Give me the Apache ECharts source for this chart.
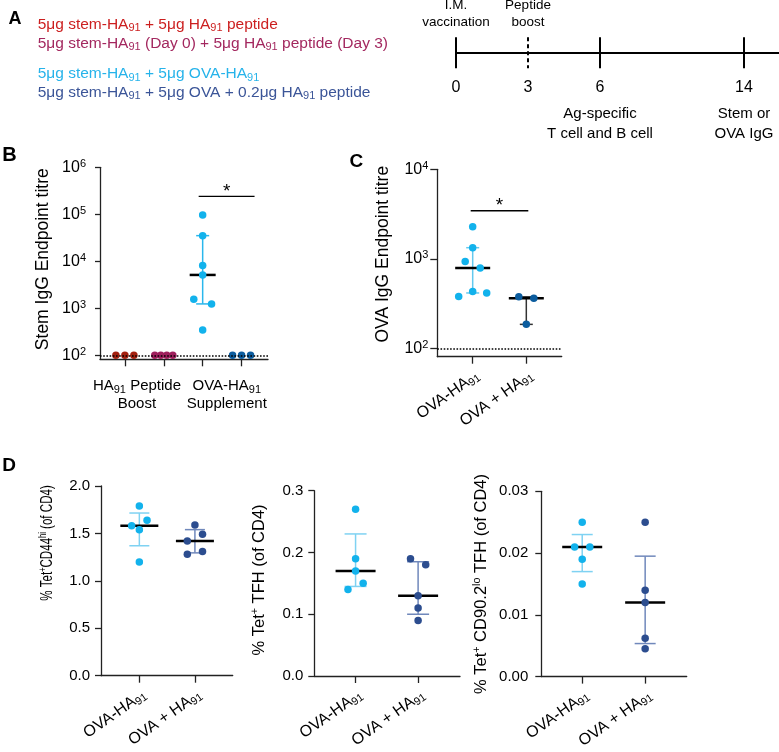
<!DOCTYPE html>
<html>
<head>
<meta charset="utf-8">
<script src="https://cdn.jsdelivr.net/npm/echarts@6/dist/echarts.min.js"></script>
<style>
  html, body { margin: 0; padding: 0; background: #fff; }
  #chart { width: 779px; height: 752px; }
</style>
</head>
<body>
<div id="chart"></div>
<script>
// ---------- data ----------
const legendLines = [
  '5μg stem-HA91 + 5μg HA91 peptide',
  '5μg stem-HA91 (Day 0) + 5μg HA91 peptide (Day 3)',
  '5μg stem-HA91 + 5μg OVA-HA91',
  '5μg stem-HA91 + 5μg OVA + 0.2μg HA91 peptide'
];

// timeline (axis slots, the empty ones are just spacing)
const timelineSlots = ['0', '3', '6', '', '14', ''];
const timelineDays = ['0', '3', '6', '14'];
const timelineAbove = ['I.M.\nvaccination', 'Peptide\nboost', '', ''];
const timelineBelow = ['', '', 'Ag-specific\nT cell and B cell', 'Stem or\nOVA IgG'];
const timelineDashed = [false, true, false, false];

// B: stem IgG endpoint titre
const stemGroups = ['HA91 peptide', 'HA91 peptide (Day 3)', 'OVA-HA91', 'OVA + HA91'];
const stemTitre = [
  [100, 100, 100],
  [100, 100, 100, 100],
  [96800, 35100, 8090, 5120, 1556, 1237, 345],
  [100, 100, 100]
];
const stemAxisLabels = ['HA91 Peptide\nBoost', 'OVA-HA91\nSupplement'];
const stemTicks = [100, 1000, 10000, 100000, 1000000];

// C: OVA IgG endpoint titre
const ovaGroups = ['OVA-HA91', 'OVA + HA91'];
const ovaTitre = [
  [2280, 1330, 930, 790, 380, 430, 415],
  [376, 363, 185]
];
const ovaTicks = [100, 1000, 10000];
const detectionLimit = 100;

// D: T cell frequencies (% of CD4)
const tetCD44 = [[1.79, 1.58, 1.54, 1.64, 1.20], [1.59, 1.42, 1.49, 1.28, 1.31]];
const tetTFH = [[0.27, 0.19, 0.17, 0.14, 0.15], [0.19, 0.18, 0.13, 0.11, 0.09]];
const tetCD90 = [[0.025, 0.021, 0.021, 0.019, 0.015], [0.025, 0.014, 0.012, 0.0062, 0.0045]];

// ---------- helpers ----------
const FONT = '"Liberation Sans", Arial, Helvetica, sans-serif';
const rich = {
  s: { fontSize: 11, lineHeight: 11, verticalAlign: 'bottom', fontFamily: FONT },
  u: { fontSize: 11, lineHeight: 11, verticalAlign: 'top', fontFamily: FONT }
};
const sub = t => t.replace(/HA91/g, 'HA{s|91}');
const axisLS = { color: '#222', width: 1.3 };

// GraphPad style percentile (p * (n + 1))
function pct(sorted, p) {
  const n = sorted.length;
  let pos = Math.min(Math.max(p * (n + 1), 1), n);
  const lo = Math.floor(pos), f = pos - lo;
  if (lo >= n) return sorted[n - 1];
  return sorted[lo - 1] + f * (sorted[lo] - sorted[lo - 1]);
}

// spread overlapping dots sideways, returns pixel offsets
function spread(values, toPx, opt) {
  const idx = values.map((v, i) => i).sort((a, b) => toPx(values[a]) - toPx(values[b]));
  const rows = [];
  let cur = [idx[0]];
  for (let k = 1; k < idx.length; k++) {
    if (Math.abs(toPx(values[idx[k]]) - toPx(values[idx[k - 1]])) < opt.dot) cur.push(idx[k]);
    else { rows.push(cur); cur = [idx[k]]; }
  }
  rows.push(cur);
  const off = values.map(() => 0);
  rows.forEach(r => {
    if (r.length < 2) return;
    r.sort((a, b) => a - b);
    let step = r.length === 2 ? opt.pair : opt.multi;
    step = Math.min(step, opt.maxSpread / (r.length - 1));
    r.forEach((i, k) => { off[i] = (k - (r.length - 1) / 2) * step; });
  });
  return off;
}

const grids = [], xAxes = [], yAxes = [], series = [], graphics = [];

// ---------- timeline (panel A) ----------
const slotPx = 72;
const tlLeft = 456;
const tlSlots = timelineSlots.map((s, i) => i);
grids.push({ left: tlLeft, top: 37.3, width: 779 - tlLeft, height: 31 });
xAxes.push({
  gridIndex: 0, type: 'value', min: 0, max: (779 - tlLeft) / slotPx,
  axisLine: { show: true, lineStyle: { color: '#000', width: 2 } },
  axisTick: { show: false },
  axisLabel: {
    customValues: tlSlots.filter(i => timelineSlots[i] !== ''), margin: 11,
    fontSize: 16, color: '#000', fontFamily: FONT, showMinLabel: true,
    formatter: v => timelineSlots[Math.round(v)]
  },
  splitLine: { show: false }
});
yAxes.push({ gridIndex: 0, type: 'value', min: -1, max: 1, show: false });
series.push({
  type: 'custom', xAxisIndex: 0, yAxisIndex: 0, silent: true,
  data: timelineDays.map(d => [timelineSlots.indexOf(d), 0]),
  renderItem: (params, api) => {
    const i = params.dataIndex;
    const top = api.coord([api.value(0), 1]);
    const bot = api.coord([api.value(0), -1]);
    const kids = [{
      type: 'line',
      shape: { x1: top[0], y1: top[1], x2: bot[0], y2: bot[1] },
      style: { stroke: '#000', lineWidth: 2, lineDash: timelineDashed[i] ? [4, 3] : null }
    }];
    if (timelineAbove[i]) kids.push({
      type: 'text', x: top[0], y: top[1] - 6,
      style: { text: timelineAbove[i], fontSize: 13.5, fontFamily: FONT, fill: '#000',
        align: 'center', verticalAlign: 'bottom', lineHeight: 17.5 }
    });
    if (timelineBelow[i]) kids.push({
      type: 'text', x: bot[0], y: bot[1] + 36,
      style: { text: timelineBelow[i], fontSize: 15, fontFamily: FONT, fill: '#000',
        align: 'center', verticalAlign: 'top', lineHeight: 19.4 }
    });
    return { type: 'group', children: kids };
  }
});

// ---------- dot plot panels ----------
const panels = [
  {
    groups: stemTitre, names: stemGroups,
    grid: { left: 100, top: 167.3, width: 168, height: 192 },
    xRange: [0.36, 4.68], yType: 'log', yRange: [82, 1e6], yTicks: stemTicks,
    colors: ['#a3200f', '#9e1f5c', '#12b2ec', '#0b5c9e'],
    errColors: ['#a3200f', '#9e1f5c', '#2ab7ec', '#0b5c9e'],
    spreadOpt: { dot: 7.5, pair: 17.8, multi: 9, maxSpread: 18 },
    capW: 13, medW: 26, tickLen: 5, labelMargin: 14, limit: detectionLimit,
    // group-pair labels sit under the two pairs of columns
    xLabels: { values: [1.31, 3.62], text: stemAxisLabels, rotate: 0, margin: 18, va: null, size: 15 },
    sig: { from: 3, to: 4, y: 240000, ext: [-4, 13] }
  },
  {
    groups: ovaTitre, names: ovaGroups,
    grid: { left: 437.3, top: 169.3, width: 124.4, height: 187.4 },
    xRange: [0.34, 2.66], yType: 'log', yRange: [80.5, 1e4], yTicks: ovaTicks,
    colors: ['#12b2ec', '#0b5c9e'],
    errColors: ['#63c9ef', '#333'],
    spreadOpt: { dot: 7.5, pair: 15, multi: 14, maxSpread: 28 },
    capW: 13, medW: 35, tickLen: 7, labelMargin: 9, limit: detectionLimit,
    sig: { from: 1, to: 2, y: 3440, ext: [-2, 2] }
  },
  {
    groups: tetCD44, names: ovaGroups,
    grid: { left: 101, top: 486, width: 131.7, height: 189.7 },
    xRange: [0.31, 2.68], yType: 'value', yRange: [0, 2], yInterval: 0.5, yDigits: 1,
    colors: ['#12b2ec', '#2c4d8f'], errColors: ['#7fd2f2', '#7088bb'],
    spreadOpt: { dot: 7.5, pair: 15.2, multi: 7.7, maxSpread: 16 },
    capW: 20, medW: 38, tickLen: 6, labelMargin: 11
  },
  {
    groups: tetTFH, names: ovaGroups,
    grid: { left: 314.3, top: 490.7, width: 145.7, height: 185.3 },
    xRange: [0.34, 2.67], yType: 'value', yRange: [0, 0.3], yInterval: 0.1, yDigits: 1,
    colors: ['#12b2ec', '#2c4d8f'], errColors: ['#7fd2f2', '#7088bb'],
    spreadOpt: { dot: 7.5, pair: 15.2, multi: 7.7, maxSpread: 16 },
    capW: 22, medW: 40, tickLen: 6, labelMargin: 11
  },
  {
    groups: tetCD90, names: ovaGroups,
    grid: { left: 541.3, top: 491.3, width: 145.4, height: 185.7 },
    xRange: [0.35, 2.66], yType: 'value', yRange: [0, 0.03], yInterval: 0.01, yDigits: 2,
    colors: ['#12b2ec', '#2c4d8f'], errColors: ['#7fd2f2', '#7088bb'],
    spreadOpt: { dot: 7.5, pair: 15.2, multi: 7.7, maxSpread: 16 },
    capW: 21, medW: 40, tickLen: 6, labelMargin: 13
  }
];

panels.forEach(p => {
  const gi = grids.length;
  grids.push(p.grid);
  const groupPos = p.groups.map((g, i) => i + 1);
  const pxPerX = p.grid.width / (p.xRange[1] - p.xRange[0]);
  const isLog = p.yType === 'log';
  const toPx = isLog
    ? v => Math.log10(v) * p.grid.height / (Math.log10(p.yRange[1]) - Math.log10(p.yRange[0]))
    : v => v * p.grid.height / (p.yRange[1] - p.yRange[0]);

  const xl = p.xLabels || { values: groupPos, text: p.names, rotate: 35, margin: 10, va: 'top', size: 16 };
  const xLabel = {
    customValues: xl.values, rotate: xl.rotate, margin: xl.margin,
    showMinLabel: true, showMaxLabel: true, hideOverlap: false,
    fontSize: xl.size, lineHeight: 18, color: '#000', fontFamily: FONT, rich,
    formatter: v => sub(xl.text[xl.values.indexOf(v)] || '')
  };
  if (xl.va) { xLabel.verticalAlign = xl.va; xLabel.align = 'right'; }
  xAxes.push({
    gridIndex: gi, type: 'value', min: p.xRange[0], max: p.xRange[1],
    axisLine: { show: true, onZero: false, lineStyle: axisLS },
    axisTick: { show: true, length: 7, lineStyle: axisLS, customValues: groupPos },
    axisLabel: xLabel,
    splitLine: { show: false }
  });
  yAxes.push(isLog ? {
    gridIndex: gi, type: 'log', logBase: 10, min: p.yRange[0], max: p.yRange[1],
    axisLine: { show: true, onZero: false, lineStyle: axisLS },
    axisTick: { show: true, length: p.tickLen, lineStyle: axisLS, customValues: p.yTicks },
    axisLabel: {
      customValues: p.yTicks, margin: p.labelMargin, fontSize: 16, lineHeight: 18,
      color: '#000', fontFamily: FONT, rich, showMinLabel: true, showMaxLabel: true,
      formatter: v => '10{u|' + Math.round(Math.log10(v)) + '}'
    },
    splitLine: { show: false }
  } : {
    gridIndex: gi, type: 'value', min: p.yRange[0], max: p.yRange[1], interval: p.yInterval,
    axisLine: { show: true, onZero: false, lineStyle: axisLS },
    axisTick: { show: true, length: p.tickLen, lineStyle: axisLS },
    axisLabel: {
      margin: p.labelMargin, fontSize: 15, color: '#000', fontFamily: FONT,
      showMinLabel: true, showMaxLabel: true,
      formatter: v => v.toFixed(p.yDigits)
    },
    splitLine: { show: false }
  });

  // median + interquartile range
  const errData = [];
  p.groups.forEach((vals, g) => {
    const s = vals.slice().sort((a, b) => a - b);
    if (s[0] === s[s.length - 1]) return;
    errData.push([g + 1, pct(s, 0.25), pct(s, 0.75), pct(s, 0.5), g]);
  });
  const errSeries = {
    type: 'custom', xAxisIndex: gi, yAxisIndex: gi, silent: true, z: 2,
    encode: { x: 0, y: [1, 2, 3] },
    data: errData,
    renderItem: (params, api) => {
      const gx = api.value(0);
      const lo = api.coord([gx, api.value(1)]);
      const hi = api.coord([gx, api.value(2)]);
      const md = api.coord([gx, api.value(3)]);
      const col = p.errColors[api.value(4)];
      const cw = p.capW / 2, mw = p.medW / 2;
      return {
        type: 'group', children: [
          { type: 'line', shape: { x1: lo[0], y1: lo[1], x2: hi[0], y2: hi[1] }, style: { stroke: col, lineWidth: 1.5 } },
          { type: 'line', shape: { x1: lo[0] - cw, y1: lo[1], x2: lo[0] + cw, y2: lo[1] }, style: { stroke: col, lineWidth: 1.5 } },
          { type: 'line', shape: { x1: hi[0] - cw, y1: hi[1], x2: hi[0] + cw, y2: hi[1] }, style: { stroke: col, lineWidth: 1.5 } },
          { type: 'line', shape: { x1: md[0] - mw, y1: md[1], x2: md[0] + mw, y2: md[1] }, style: { stroke: '#000', lineWidth: 2.5 } }
        ]
      };
    }
  };
  if (p.limit) {
    errSeries.markLine = {
      silent: true, symbol: ['none', 'none'], label: { show: false },
      lineStyle: { type: 'dotted', color: '#000', width: 1.6 },
      data: [{ yAxis: p.limit }]
    };
  }
  series.push(errSeries);

  // dots
  p.groups.forEach((vals, g) => {
    const off = spread(vals, toPx, p.spreadOpt);
    series.push({
      type: 'scatter', name: p.names[g], xAxisIndex: gi, yAxisIndex: gi, z: 3, silent: true,
      symbolSize: 7.5, itemStyle: { color: p.colors[g], opacity: 1 },
      data: vals.map((v, i) => [g + 1 + off[i] / pxPerX, v])
    });
  });

  // significance bar
  if (p.sig) {
    const sg = p.sig;
    series.push({
      type: 'custom', xAxisIndex: gi, yAxisIndex: gi, silent: true, z: 4,
      encode: { x: [0, 1], y: 2 },
      data: [[sg.from, sg.to, sg.y]],
      renderItem: (params, api) => {
        const a = api.coord([api.value(0), api.value(2)]);
        const b = api.coord([api.value(1), api.value(2)]);
        const x1 = a[0] + sg.ext[0], x2 = b[0] + sg.ext[1];
        return {
          type: 'group', children: [
            { type: 'line', shape: { x1, y1: a[1], x2, y2: a[1] }, style: { stroke: '#000', lineWidth: 1.3 } },
            { type: 'text', x: (x1 + x2) / 2, y: a[1] - 5,
              style: { text: '*', fontSize: 19, fontFamily: FONT, fill: '#000', align: 'center', verticalAlign: 'middle' } }
          ]
        };
      }
    });
  }
});

// ---------- text: legend, panel letters, axis titles ----------
const legendColors = ['#cc1f1f', '#a3285f', '#26b3ea', '#3b5598'];
const legendY = [24.3, 43.3, 74, 92.7];
legendLines.forEach((t, i) => graphics.push({
  type: 'text', x: 37.7, y: legendY[i], silent: true,
  style: { text: sub(t), fontSize: 15.5, lineHeight: 18, fontFamily: FONT, fill: legendColors[i],
    align: 'left', verticalAlign: 'middle', rich }
}));

[['A', 15, 18.8, 18], ['B', 9.5, 155, 20], ['C', 356.3, 161.7, 19], ['D', 9, 466, 19]].forEach(l => graphics.push({
  type: 'text', x: l[1], y: l[2], silent: true,
  style: { text: l[0], fontSize: l[3], fontWeight: 'bold', fontFamily: FONT, fill: '#000', align: 'center', verticalAlign: 'middle' }
}));

// [text, x, y, font size, horizontal squeeze]
[
  ['Stem IgG Endpoint titre', 43.3, 259.2, 17.5, 1],
  ['OVA IgG Endpoint titre', 382.7, 254.2, 17.5, 1],
  ['% Tet{u|+}CD44{u|hi} (of CD4)', 47, 543, 16.5, 0.7],
  ['% Tet{u|+} TFH (of CD4)', 259, 580, 16.5, 1],
  ['% Tet{u|+} CD90.2{u|lo} TFH (of CD4)', 481.7, 584, 16.5, 1]
].forEach(t => graphics.push({
  type: 'text', x: t[1], y: t[2], rotation: Math.PI / 2, scaleX: t[4], silent: true,
  style: { text: t[0], fontSize: t[3], lineHeight: t[3] * 1.2, fontFamily: FONT, fill: '#000',
    align: 'center', verticalAlign: 'middle',
    rich: { u: { fontSize: t[3] * 0.65, lineHeight: t[3] * 0.65, verticalAlign: 'top', fontFamily: FONT } } }
}));

const chart = echarts.init(document.getElementById('chart'));
chart.setOption({
  animation: false,
  backgroundColor: '#fff',
  textStyle: { fontFamily: FONT },
  grid: grids,
  xAxis: xAxes,
  yAxis: yAxes,
  series: series,
  graphic: graphics
});
</script>
</body>
</html>
